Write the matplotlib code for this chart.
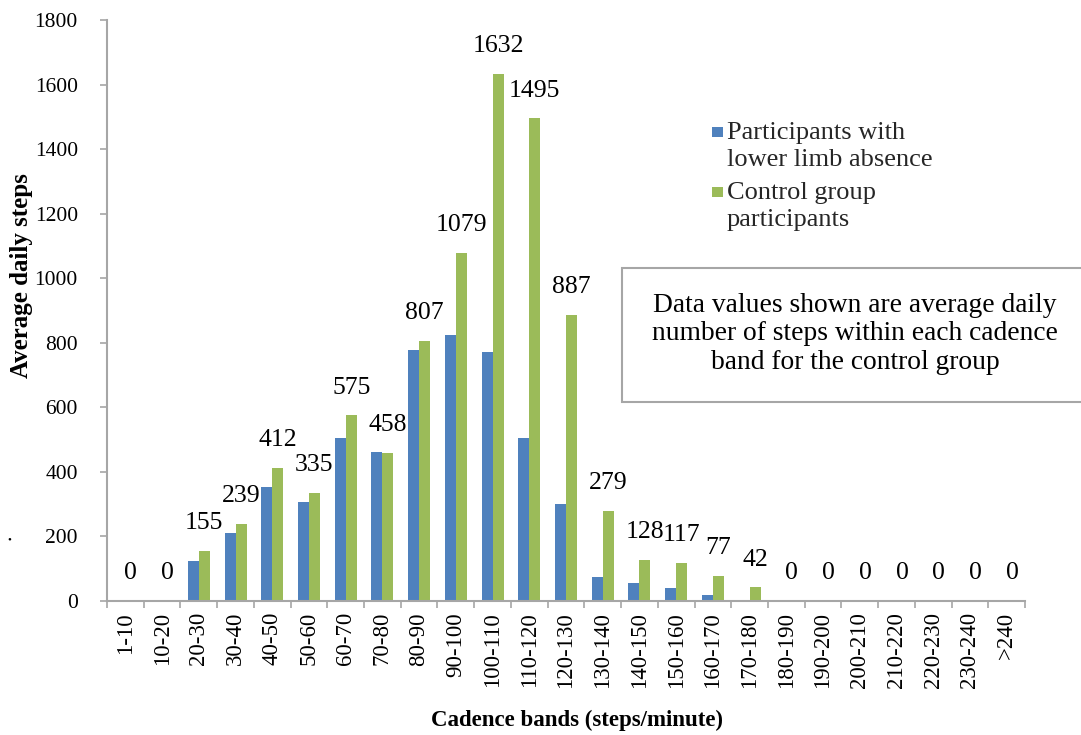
import numpy as np
import matplotlib.pyplot as plt
from matplotlib.patches import Rectangle

plt.rcParams['font.family'] = ['Liberation Serif', 'DejaVu Serif']

bands = ['1-10', '10-20', '20-30', '30-40', '40-50', '50-60', '60-70', '70-80',
         '80-90', '90-100', '100-110', '110-120', '120-130', '130-140', '140-150',
         '150-160', '160-170', '170-180', '180-190', '190-200', '200-210',
         '210-220', '220-230', '230-240', '>240']

# average daily steps per cadence band
limb_absence = [0, 0, 124, 210, 352, 306, 504, 463, 777, 823, 771, 505, 300,
                75, 55, 39, 20, 4, 0, 0, 0, 0, 0, 0, 0]
control = [0, 0, 155, 239, 412, 335, 575, 458, 807, 1079, 1632, 1495, 887,
           279, 128, 117, 77, 42, 0, 0, 0, 0, 0, 0, 0]

series_names = ['Participants with\nlower limb absence', 'Control group\nparticipants']
note = ('Data values shown are average daily\n'
        'number of steps within each cadence\n'
        'band for the control group')

blue = '#4F81BD'
green = '#9BBB59'
grey = '#A6A6A6'

W, H = 1081, 735
fig = plt.figure(figsize=(W / 100, H / 100), dpi=100)
ax = fig.add_axes([107 / W, 134 / H, (1025 - 107) / W, 581 / H])

x = np.arange(len(bands))
w = 0.3
ax.bar(x - w / 2, limb_absence, w, color=blue, label=series_names[0])
ax.bar(x + w / 2, control, w, color=green, label=series_names[1])

# value labels over the control bars
for xi, v in zip(x, control):
    ax.annotate(str(v), (xi + w / 2, v), xytext=(0, 20), textcoords='offset points',
                ha='center', va='center', fontsize=18.5)

ax.set_xlim(-0.5, len(bands) - 0.5)
ax.set_ylim(0, 1800)
ax.set_yticks(range(0, 1801, 200))
ax.set_xticks(np.arange(-0.5, len(bands), 1))
ax.set_xticklabels([])
ax.set_xticks(x, minor=True)
ax.set_xticklabels(bands, minor=True, rotation=90, fontsize=16.5)
ax.tick_params(axis='x', which='minor', length=0, pad=8)
ax.tick_params(axis='x', which='major', length=5, width=1.2, color=grey)
ax.tick_params(axis='y', length=5, width=1.2, color=grey, labelsize=15.5, pad=16)

for side in ['top', 'right']:
    ax.spines[side].set_visible(False)
for side in ['left', 'bottom']:
    ax.spines[side].set_color(grey)
    ax.spines[side].set_linewidth(1.5)

fig.text(22 / W, 1 - 276 / H, 'Average daily steps', rotation=90, fontsize=18,
         fontweight='bold', ha='center', va='center')
fig.text(577 / W, 1 - 720 / H, 'Cadence bands (steps/minute)', fontsize=16.5,
         fontweight='bold', ha='center', va='center')

# legend, marker aligned with the first line of each entry
for i, (name, col) in enumerate(zip(series_names, [blue, green])):
    ty = 132 + 60 * i
    fig.patches.append(Rectangle((712 / W, 1 - (ty + 5) / H), 11 / W, 10 / H,
                                 transform=fig.transFigure, facecolor=col,
                                 edgecolor='none'))
    fig.text(727 / W, 1 - (ty - 10) / H, name, fontsize=19, ha='left', va='top',
             linespacing=1.3, color='#262626')

# note box on the right
fig.patches.append(Rectangle((622 / W, 1 - 402 / H), 0.5, 134 / H,
                             transform=fig.transFigure, facecolor='white',
                             edgecolor=grey, linewidth=1.5, zorder=5))
fig.text(855 / W, 1 - 334 / H, note, ha='center', va='center', fontsize=19.8,
         linespacing=1.18, zorder=6)

fig.text(9 / W, 1 - 540 / H, '•', fontsize=8, ha='center', va='center')

fig.savefig('out.png', dpi=100)
